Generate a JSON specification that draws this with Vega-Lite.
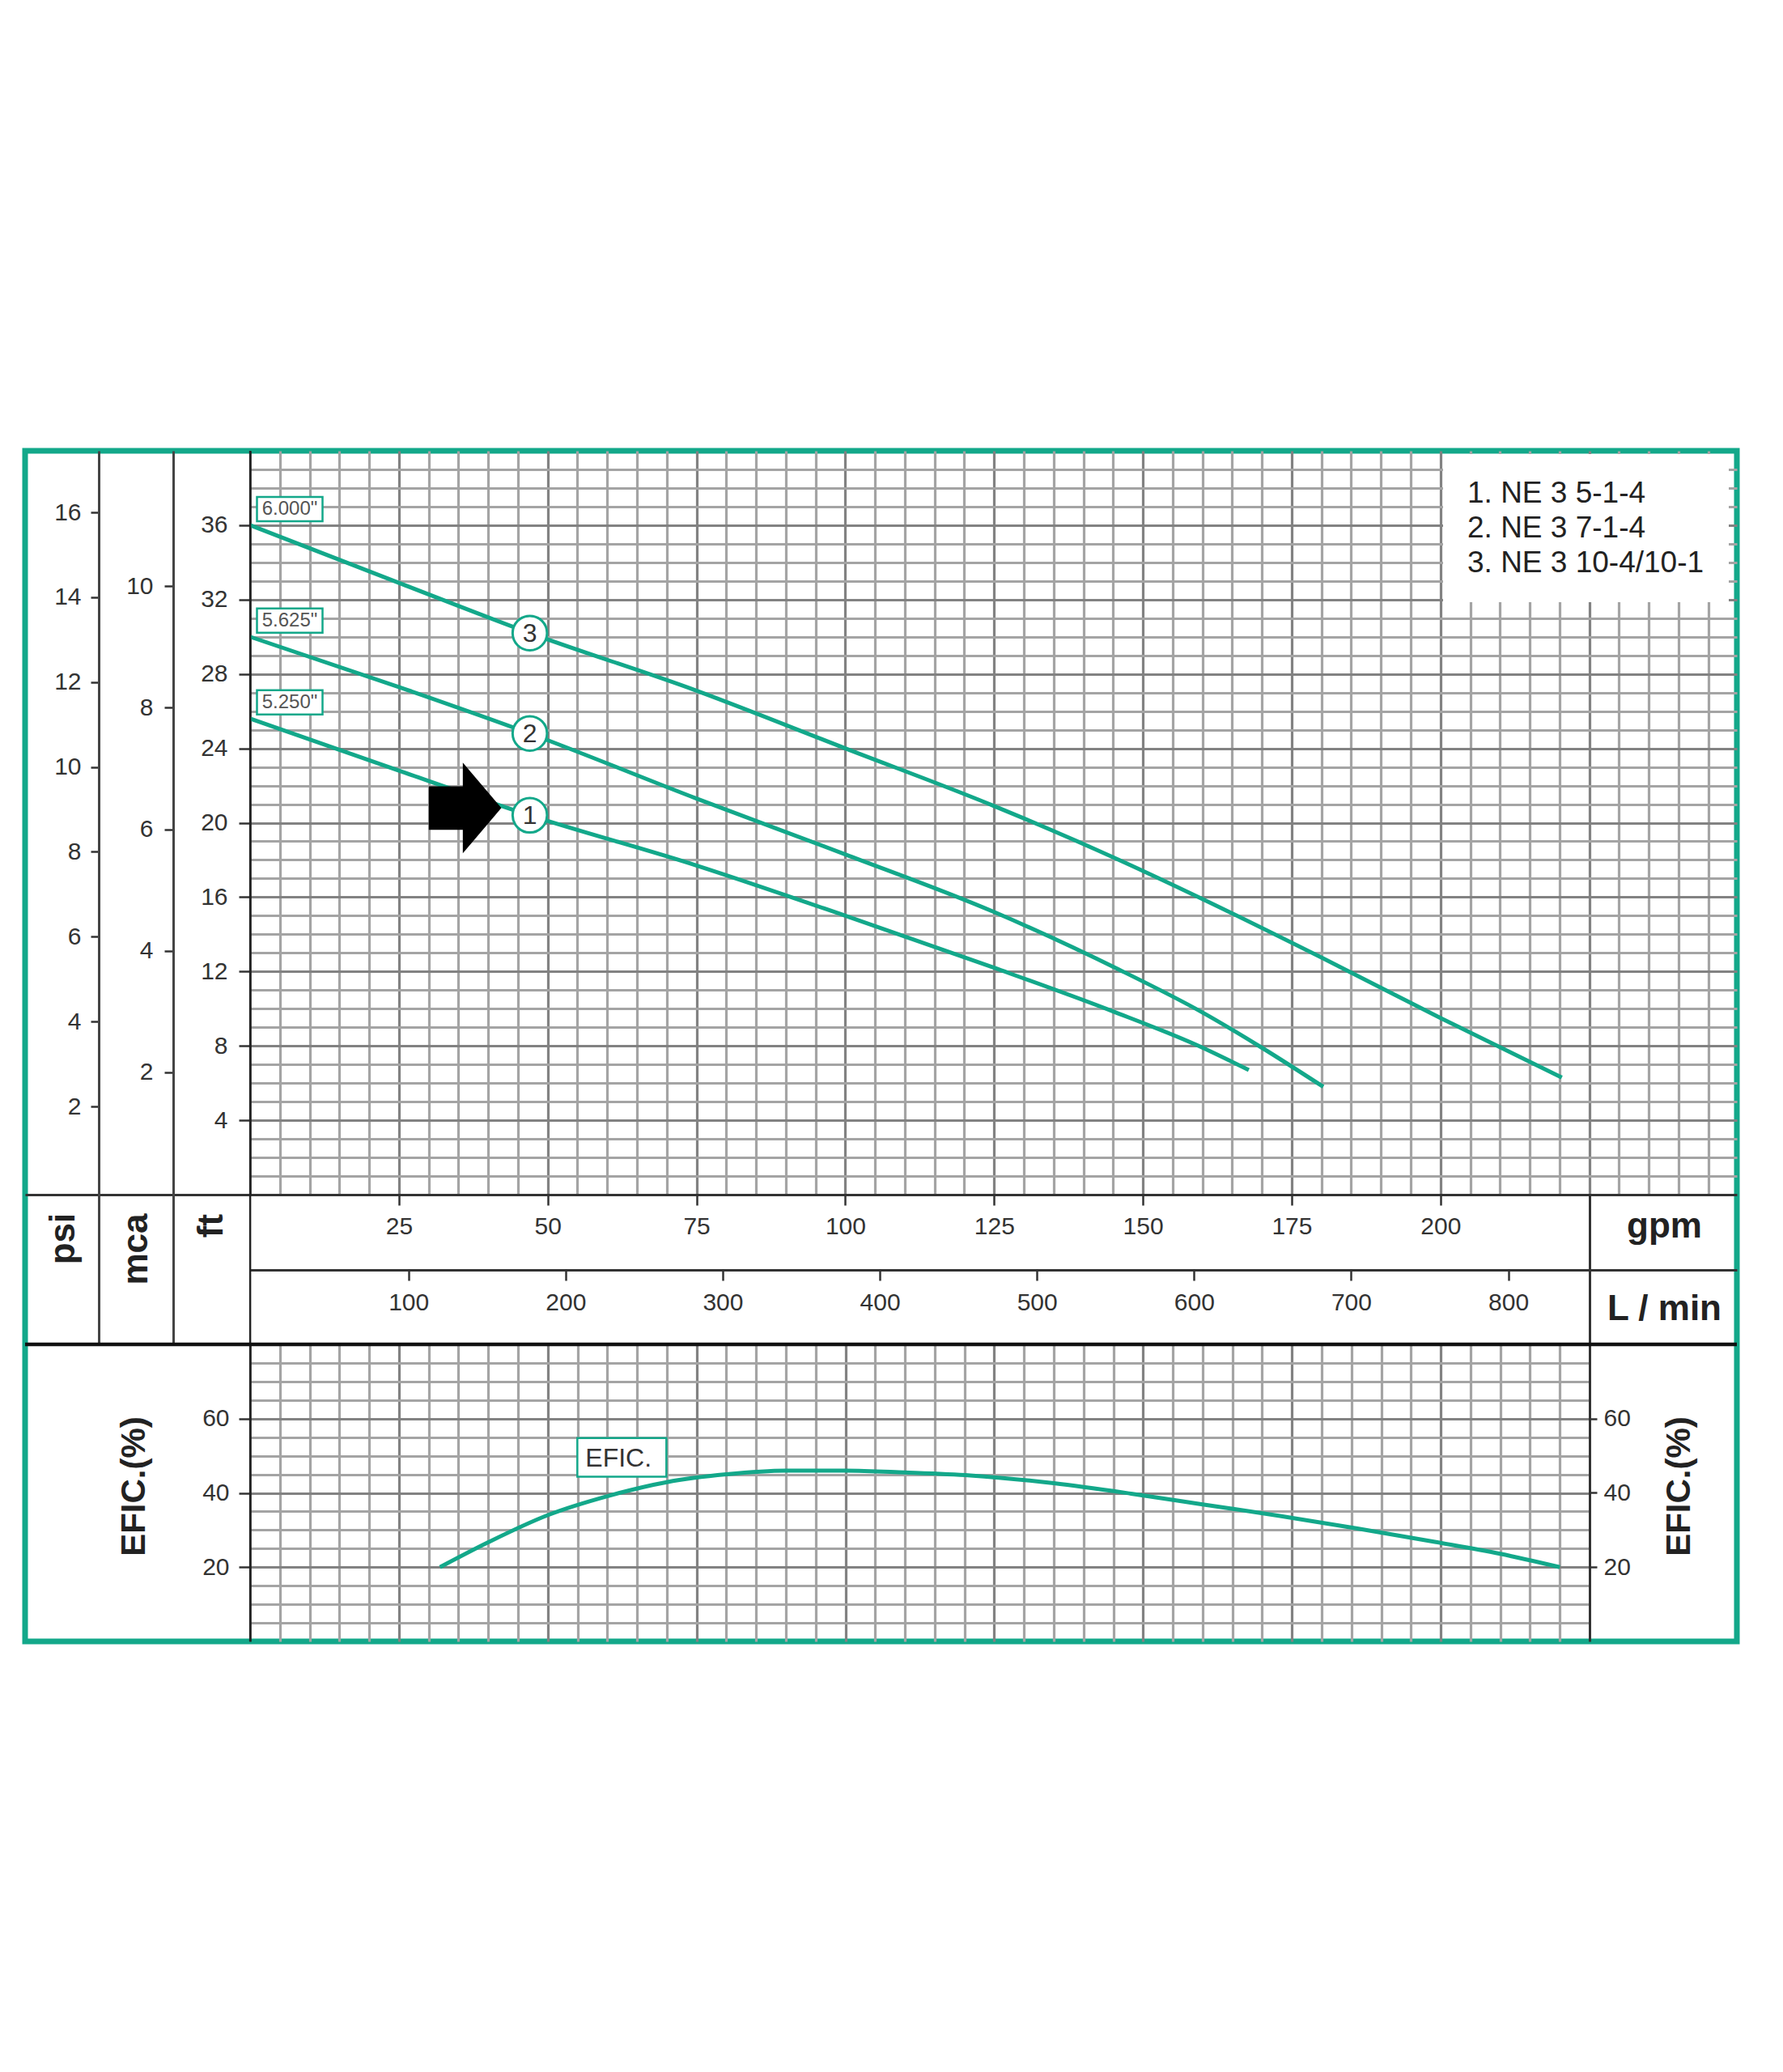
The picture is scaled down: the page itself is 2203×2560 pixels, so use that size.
{
  "$schema": "https://vega.github.io/schema/vega-lite/v6.json",
  "width": 2115,
  "height": 1471,
  "autosize": {"type": "none"},
  "padding": {"left": 31, "top": 557, "right": 57, "bottom": 532},
  "background": "white",
  "config": {
    "view": {"stroke": "#13a88a", "strokeWidth": 7},
    "axis": {"labelFont": "Liberation Sans", "titleFont": "Liberation Sans", "labelColor": "#333333", "titleColor": "#222222", "domainColor": "#333333", "tickColor": "#333333", "labelFontSize": 30, "titleFontSize": 44, "titleFontWeight": "bold", "domainWidth": 2.5, "tickWidth": 2.5, "labelOverlap": false, "labelFlush": false, "labelBound": false, "gridOpacity": 1},
    "legend": {"labelFont": "Liberation Sans", "labelFontSize": 37, "labelColor": "#222222", "labelLimit": 800}
  },
  "datasets": {
    "heads": [
      {"n": "1", "model": "1. NE 3 5-1-4", "dia": "5.250\"", "gpm": 0, "ft": 25.6},
      {"n": "1", "model": "1. NE 3 5-1-4", "dia": "5.250\"", "gpm": 25, "ft": 22.8},
      {"n": "1", "model": "1. NE 3 5-1-4", "dia": "5.250\"", "gpm": 47, "ft": 20.4},
      {"n": "1", "model": "1. NE 3 5-1-4", "dia": "5.250\"", "gpm": 75, "ft": 17.7},
      {"n": "1", "model": "1. NE 3 5-1-4", "dia": "5.250\"", "gpm": 100, "ft": 15.0},
      {"n": "1", "model": "1. NE 3 5-1-4", "dia": "5.250\"", "gpm": 125, "ft": 12.2},
      {"n": "1", "model": "1. NE 3 5-1-4", "dia": "5.250\"", "gpm": 145, "ft": 9.85},
      {"n": "1", "model": "1. NE 3 5-1-4", "dia": "5.250\"", "gpm": 159, "ft": 8.05},
      {"n": "1", "model": "1. NE 3 5-1-4", "dia": "5.250\"", "gpm": 167.8, "ft": 6.7},
      {"n": "2", "model": "2. NE 3 7-1-4", "dia": "5.625\"", "gpm": 0, "ft": 30.0},
      {"n": "2", "model": "2. NE 3 7-1-4", "dia": "5.625\"", "gpm": 25, "ft": 27.3},
      {"n": "2", "model": "2. NE 3 7-1-4", "dia": "5.625\"", "gpm": 47, "ft": 24.8},
      {"n": "2", "model": "2. NE 3 7-1-4", "dia": "5.625\"", "gpm": 75, "ft": 21.3},
      {"n": "2", "model": "2. NE 3 7-1-4", "dia": "5.625\"", "gpm": 100, "ft": 18.3},
      {"n": "2", "model": "2. NE 3 7-1-4", "dia": "5.625\"", "gpm": 125, "ft": 15.2},
      {"n": "2", "model": "2. NE 3 7-1-4", "dia": "5.625\"", "gpm": 146, "ft": 12.1},
      {"n": "2", "model": "2. NE 3 7-1-4", "dia": "5.625\"", "gpm": 160, "ft": 9.8},
      {"n": "2", "model": "2. NE 3 7-1-4", "dia": "5.625\"", "gpm": 170, "ft": 7.9},
      {"n": "2", "model": "2. NE 3 7-1-4", "dia": "5.625\"", "gpm": 180.3, "ft": 5.8},
      {"n": "3", "model": "3. NE 3 10-4/10-1", "dia": "6.000\"", "gpm": 0, "ft": 36.0},
      {"n": "3", "model": "3. NE 3 10-4/10-1", "dia": "6.000\"", "gpm": 25, "ft": 32.9},
      {"n": "3", "model": "3. NE 3 10-4/10-1", "dia": "6.000\"", "gpm": 47, "ft": 30.2},
      {"n": "3", "model": "3. NE 3 10-4/10-1", "dia": "6.000\"", "gpm": 75, "ft": 27.1},
      {"n": "3", "model": "3. NE 3 10-4/10-1", "dia": "6.000\"", "gpm": 100, "ft": 24.0},
      {"n": "3", "model": "3. NE 3 10-4/10-1", "dia": "6.000\"", "gpm": 125, "ft": 20.9},
      {"n": "3", "model": "3. NE 3 10-4/10-1", "dia": "6.000\"", "gpm": 146, "ft": 18.0},
      {"n": "3", "model": "3. NE 3 10-4/10-1", "dia": "6.000\"", "gpm": 160, "ft": 15.9},
      {"n": "3", "model": "3. NE 3 10-4/10-1", "dia": "6.000\"", "gpm": 180, "ft": 12.75},
      {"n": "3", "model": "3. NE 3 10-4/10-1", "dia": "6.000\"", "gpm": 200, "ft": 9.5},
      {"n": "3", "model": "3. NE 3 10-4/10-1", "dia": "6.000\"", "gpm": 220.4, "ft": 6.3}
    ],
    "eff": [
      {"gpm": 31.9, "eff": 20},
      {"gpm": 40, "eff": 26.7},
      {"gpm": 50, "eff": 34.0},
      {"gpm": 60, "eff": 39.1},
      {"gpm": 70, "eff": 42.9},
      {"gpm": 80, "eff": 45.0},
      {"gpm": 90, "eff": 46.0},
      {"gpm": 100, "eff": 46.0},
      {"gpm": 110, "eff": 45.5},
      {"gpm": 121, "eff": 44.7},
      {"gpm": 135, "eff": 42.6},
      {"gpm": 148, "eff": 39.8},
      {"gpm": 160, "eff": 36.9},
      {"gpm": 173, "eff": 33.8},
      {"gpm": 186, "eff": 30.4},
      {"gpm": 199, "eff": 26.8},
      {"gpm": 210, "eff": 23.6},
      {"gpm": 220, "eff": 20}
    ]
  },
  "layer": [
    {
      "layer": [
        {
          "data": {"name": "heads"},
          "mark": {"type": "line", "strokeWidth": 5, "interpolate": "monotone"},
          "encoding": {
            "x": {"field": "gpm", "type": "quantitative",
              "scale": {"domain": [0, 249.8], "range": [278, 2115], "nice": false, "zero": false},
              "axis": {"orient": "top", "values": [5,10,15,20,25,30,35,40,45,50,55,60,65,70,75,80,85,90,95,100,105,110,115,120,125,130,135,140,145,150,155,160,165,170,175,180,185,190,195,200,205,210,215,220,225,230,235,240,245],
                "grid": true, "gridColor": {"condition": {"test": "datum.value % 25 === 0", "value": "#828282"}, "value": "#a4a4a4"}, "gridWidth": 3.2,
                "domain": false, "ticks": false, "labels": false, "title": null}},
            "y": {"field": "ft", "type": "quantitative",
              "scale": {"domain": [0, 40], "range": [919, 0], "nice": false, "zero": false},
              "axis": {"orient": "left", "offset": -278, "values": [1,2,3,4,5,6,7,8,9,10,11,12,13,14,15,16,17,18,19,20,21,22,23,24,25,26,27,28,29,30,31,32,33,34,35,36,37,38,39],
                "grid": true, "gridColor": {"condition": {"test": "datum.value % 4 === 0", "value": "#828282"}, "value": "#a4a4a4"}, "gridWidth": 3.2,
                "domain": true, "domainColor": "#222222", "tickSize": 14,
                "tickOpacity": {"condition": {"test": "datum.value % 4 === 0", "value": 1}, "value": 0},
                "labelExpr": "datum.value % 4 === 0 ? datum.label : ''", "labelPadding": 14,
                "title": "ft", "titleX": -48, "titleY": 957, "titleAngle": 270, "titleAlign": "center", "titleBaseline": "middle"}},
            "color": {"field": "model", "type": "nominal",
              "scale": {"domain": ["1. NE 3 5-1-4", "2. NE 3 7-1-4", "3. NE 3 10-4/10-1"], "range": ["#13a88a", "#13a88a", "#13a88a"]},
              "legend": {"orient": "none", "legendX": 1752, "legendY": 4, "title": null, "symbolSize": 0, "symbolOpacity": 0, "symbolStrokeWidth": 0, "labelOffset": -37, "padding": 30, "rowPadding": 5, "fillColor": "white"}}
          }
        },
        {
          "data": {"name": "heads"},
          "transform": [{"filter": "datum.gpm === 0"}],
          "mark": {"type": "point", "shape": "M-1,-0.37L1,-0.37L1,0.37L-1,0.37Z", "size": 6561, "filled": true, "fill": "white", "stroke": "#13a88a", "strokeWidth": 2.5, "opacity": 1, "xOffset": 49, "yOffset": -20},
          "encoding": {
            "x": {"field": "gpm", "type": "quantitative", "scale": {"domain": [0, 249.8], "range": [278, 2115], "nice": false, "zero": false}, "axis": null},
            "y": {"field": "ft", "type": "quantitative", "scale": {"domain": [0, 40], "range": [919, 0], "nice": false, "zero": false}, "axis": null}
          }
        },
        {
          "data": {"name": "heads"},
          "transform": [{"filter": "datum.gpm === 0"}],
          "mark": {"type": "text", "font": "Liberation Sans", "fontSize": 24, "color": "#555555", "align": "center", "baseline": "middle", "dx": 49, "dy": -20},
          "encoding": {
            "x": {"field": "gpm", "type": "quantitative", "scale": {"domain": [0, 249.8], "range": [278, 2115], "nice": false, "zero": false}, "axis": null},
            "y": {"field": "ft", "type": "quantitative", "scale": {"domain": [0, 40], "range": [919, 0], "nice": false, "zero": false}, "axis": null},
            "text": {"field": "dia"}
          }
        },
        {
          "data": {"name": "heads"},
          "transform": [{"filter": "datum.gpm === 47"}],
          "mark": {"type": "point", "shape": "circle", "size": 1810, "filled": true, "fill": "white", "stroke": "#13a88a", "strokeWidth": 3, "opacity": 1},
          "encoding": {
            "x": {"field": "gpm", "type": "quantitative", "scale": {"domain": [0, 249.8], "range": [278, 2115], "nice": false, "zero": false}, "axis": null},
            "y": {"field": "ft", "type": "quantitative", "scale": {"domain": [0, 40], "range": [919, 0], "nice": false, "zero": false}, "axis": null}
          }
        },
        {
          "data": {"name": "heads"},
          "transform": [{"filter": "datum.gpm === 47"}],
          "mark": {"type": "text", "font": "Liberation Sans", "fontSize": 32, "color": "#333333", "align": "center", "baseline": "middle", "dy": 1},
          "encoding": {
            "x": {"field": "gpm", "type": "quantitative", "scale": {"domain": [0, 249.8], "range": [278, 2115], "nice": false, "zero": false}, "axis": null},
            "y": {"field": "ft", "type": "quantitative", "scale": {"domain": [0, 40], "range": [919, 0], "nice": false, "zero": false}, "axis": null},
            "text": {"field": "n"}
          }
        },
        {
          "data": {"name": "heads"},
          "transform": [{"filter": "datum.gpm === 47 && datum.n === '1'"}],
          "mark": {"type": "point", "shape": "M-0.8,-0.48L-0.05,-0.48L-0.05,-1L0.8,0L-0.05,1L-0.05,0.48L-0.8,0.48Z", "size": 12544, "filled": true, "fill": "black", "strokeWidth": 0, "opacity": 1, "xOffset": -80, "yOffset": -9},
          "encoding": {
            "x": {"field": "gpm", "type": "quantitative", "scale": {"domain": [0, 249.8], "range": [278, 2115], "nice": false, "zero": false}, "axis": null},
            "y": {"field": "ft", "type": "quantitative", "scale": {"domain": [0, 40], "range": [919, 0], "nice": false, "zero": false}, "axis": null}
          }
        }
      ],
      "resolve": {"axis": {"x": "independent", "y": "independent"}}
    },
    {
      "layer": [
        {
          "data": {"name": "eff"},
          "mark": {"type": "line", "strokeWidth": 5, "interpolate": "monotone", "color": "#13a88a"},
          "encoding": {
            "x": {"field": "gpm", "type": "quantitative",
              "scale": {"domain": [0, 225], "range": [278, 1933], "nice": false, "zero": false},
              "axis": {"orient": "top", "values": [5,10,15,20,25,30,35,40,45,50,55,60,65,70,75,80,85,90,95,100,105,110,115,120,125,130,135,140,145,150,155,160,165,170,175,180,185,190,195,200,205,210,215,220],
                "grid": true, "gridColor": {"condition": {"test": "datum.value % 25 === 0", "value": "#828282"}, "value": "#a4a4a4"}, "gridWidth": 3.2,
                "domain": false, "ticks": false, "labels": false, "title": null}},
            "y": {"field": "eff", "type": "quantitative",
              "scale": {"domain": [0, 80], "range": [1471, 1104], "nice": false, "zero": false},
              "axis": {"orient": "left", "offset": -278, "values": [5,10,15,20,25,30,35,40,45,50,55,60,65,70,75],
                "grid": true, "gridColor": {"condition": {"test": "datum.value % 20 === 0", "value": "#828282"}, "value": "#a4a4a4"}, "gridWidth": 3.2,
                "domain": true, "domainColor": "#222222", "tickSize": 14,
                "tickOpacity": {"condition": {"test": "datum.value % 20 === 0", "value": 1}, "value": 0},
                "labelExpr": "datum.value % 20 === 0 ? datum.label : ''", "labelPadding": 12,
                "title": "EFIC.(%)", "titleX": -144, "titleY": 1279, "titleAngle": 270, "titleAlign": "center", "titleBaseline": "middle", "titleFontSize": 42}}
          }
        },
        {
          "data": {"name": "eff"},
          "transform": [{"filter": "datum.gpm === 60"}],
          "mark": {"type": "point", "shape": "M-1,-0.436L1,-0.436L1,0.436L-1,0.436Z", "size": 12100, "filled": true, "fill": "white", "stroke": "#13a88a", "strokeWidth": 2.5, "opacity": 1, "xOffset": 18, "yOffset": -48},
          "encoding": {
            "x": {"field": "gpm", "type": "quantitative", "scale": {"domain": [0, 225], "range": [278, 1933], "nice": false, "zero": false}, "axis": null},
            "y": {"field": "eff", "type": "quantitative", "scale": {"domain": [0, 80], "range": [1471, 1104], "nice": false, "zero": false}, "axis": null}
          }
        },
        {
          "data": {"name": "eff"},
          "transform": [{"filter": "datum.gpm === 60"}],
          "mark": {"type": "text", "text": "EFIC.", "font": "Liberation Sans Narrow, Liberation Sans", "fontSize": 32, "color": "#333333", "align": "left", "baseline": "middle", "dx": -27, "dy": -47},
          "encoding": {
            "x": {"field": "gpm", "type": "quantitative", "scale": {"domain": [0, 225], "range": [278, 1933], "nice": false, "zero": false}, "axis": null},
            "y": {"field": "eff", "type": "quantitative", "scale": {"domain": [0, 80], "range": [1471, 1104], "nice": false, "zero": false}, "axis": null}
          }
        }
      ],
      "resolve": {"axis": {"x": "independent", "y": "independent"}}
    },
    {
      "data": {"values": [{}]},
      "mark": {"type": "rule", "opacity": 0},
      "encoding": {
        "y": {"datum": 0, "type": "quantitative",
          "scale": {"domain": [-3.607, 17.45], "range": [1104, 0], "nice": false, "zero": false},
          "axis": {"orient": "left", "offset": -91, "values": [2,4,6,8,10,12,14,16], "domainColor": "#444444", "domainWidth": 3, "tickSize": 10, "labelPadding": 12, "grid": false,
            "title": "psi", "titleX": -44, "titleY": 973, "titleAngle": 270, "titleAlign": "center", "titleBaseline": "middle"}}
      }
    },
    {
      "data": {"values": [{}]},
      "mark": {"type": "rule", "opacity": 0},
      "encoding": {
        "y": {"datum": 0, "type": "quantitative",
          "scale": {"domain": [-2.475, 12.225], "range": [1104, 0], "nice": false, "zero": false},
          "axis": {"orient": "left", "offset": -183, "values": [2,4,6,8,10], "domainColor": "#444444", "domainWidth": 3, "tickSize": 11, "labelPadding": 14, "grid": false,
            "title": "mca", "titleX": -46, "titleY": 986, "titleAngle": 270, "titleAlign": "center", "titleBaseline": "middle"}}
      }
    },
    {
      "data": {"values": [{}]},
      "mark": {"type": "rule", "color": "#222222", "strokeWidth": 2.5},
      "encoding": {
        "x": {"datum": 0, "type": "quantitative",
          "scale": {"domain": [-37.82, 249.8], "range": [0, 2115], "nice": false, "zero": false},
          "axis": {"orient": "bottom", "offset": -552, "values": [25,50,75,100,125,150,175,200], "domainColor": "#333333", "domainWidth": 3, "tickSize": 13, "labelPadding": 26, "labelBaseline": "middle", "labelFont": "Liberation Sans Narrow, Liberation Sans", "grid": false,
            "title": "gpm", "titleX": 2025, "titleY": 39, "titleAngle": 0, "titleAlign": "center", "titleBaseline": "middle"}}
      }
    },
    {
      "data": {"values": [{}]},
      "mark": {"type": "rule", "opacity": 0},
      "encoding": {
        "x": {"datum": 0, "type": "quantitative",
          "scale": {"domain": [-0.8, 945.5], "range": [278, 2115], "nice": false, "zero": false},
          "axis": {"orient": "bottom", "offset": -459, "values": [100,200,300,400,500,600,700,800], "domainColor": "#333333", "domainWidth": 3, "tickSize": 13, "labelPadding": 27, "labelBaseline": "middle", "labelFont": "Liberation Sans Narrow, Liberation Sans", "grid": false,
            "title": "L / min", "titleX": 2025, "titleY": 48, "titleAngle": 0, "titleAlign": "center", "titleBaseline": "middle"}}
      }
    },
    {
      "data": {"values": [{}]},
      "mark": {"type": "rule", "color": "#111111", "strokeWidth": 4.5},
      "encoding": {
        "y": {"datum": 80, "type": "quantitative",
          "scale": {"domain": [0, 120.3], "range": [1471, 919], "nice": false, "zero": false},
          "axis": {"orient": "right", "offset": -182, "values": [20,40,60], "domainColor": "#333333", "domainWidth": 3, "tickSize": 9, "labelPadding": 8, "labelFont": "Liberation Sans Narrow, Liberation Sans", "grid": false,
            "title": "EFIC.(%)", "titleX": 110, "titleY": 1279, "titleAngle": 270, "titleAlign": "center", "titleBaseline": "middle", "titleFontSize": 42}}
      }
    }
  ],
  "resolve": {"scale": {"x": "independent", "y": "independent"}, "axis": {"x": "independent", "y": "independent"}}
}
